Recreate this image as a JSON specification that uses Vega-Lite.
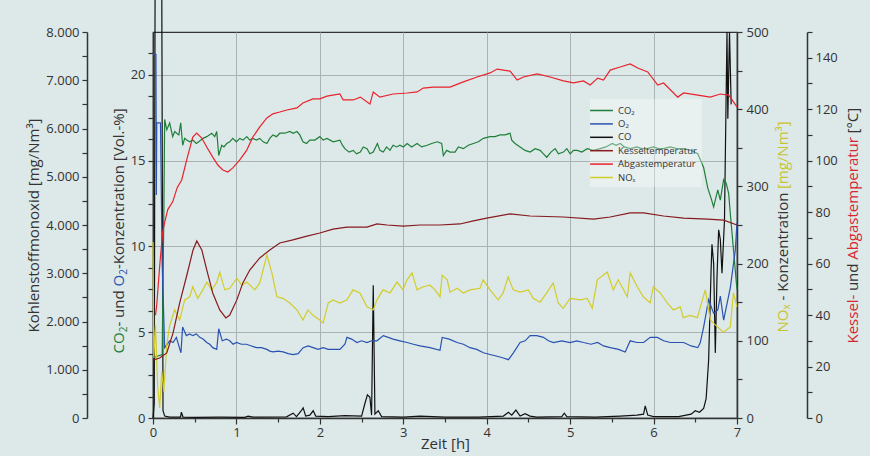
{
"$schema": "https://vega.github.io/schema/vega-lite/v6.json",
"width": 584, "height": 386,
"autosize": {"type": "none"},
"padding": {"left": 153, "top": 32, "right": 133, "bottom": 38},
"background": "#dde8e9",
"config": {
  "view": {"stroke": "#333333", "strokeWidth": 1.2},
  "font": "Open Sans",
  "axis": {"labelFont": "Open Sans", "titleFont": "Open Sans", "labelColor": "#333333", "titleColor": "#333333", "domainColor": "#333333", "tickColor": "#333333", "labelFontSize": 13, "titleFontSize": 15, "titleFontWeight": "normal", "gridColor": "#aab2b3", "gridWidth": 1, "domainWidth": 1.5, "tickWidth": 1.2, "labelOverlap": false, "labelFlush": false}
},
"datasets": {"d": [
{"s":"CO₂","t":0,"v":3.5},{"s":"CO₂","t":0.05,"v":3.6},{"s":"CO₂","t":0.11,"v":3.7},{"s":"CO₂","t":0.13,"v":12},{"s":"CO₂","t":0.14,"v":17.4},{"s":"CO₂","t":0.165,"v":16.8},{"s":"CO₂","t":0.2,"v":17.2},{"s":"CO₂","t":0.236,"v":16.4},{"s":"CO₂","t":0.26,"v":16.7},{"s":"CO₂","t":0.284,"v":16.6},{"s":"CO₂","t":0.31,"v":16.5},{"s":"CO₂","t":0.332,"v":17.2},{"s":"CO₂","t":0.356,"v":15.9},{"s":"CO₂","t":0.38,"v":16.3},{"s":"CO₂","t":0.404,"v":16.2},{"s":"CO₂","t":0.44,"v":16.1},{"s":"CO₂","t":0.476,"v":16.2},{"s":"CO₂","t":0.52,"v":16.0},{"s":"CO₂","t":0.56,"v":16.15},{"s":"CO₂","t":0.6,"v":16.3},{"s":"CO₂","t":0.644,"v":16.4},{"s":"CO₂","t":0.704,"v":16.6},{"s":"CO₂","t":0.74,"v":16.4},{"s":"CO₂","t":0.764,"v":16.7},{"s":"CO₂","t":0.788,"v":15.3},{"s":"CO₂","t":0.824,"v":15.9},{"s":"CO₂","t":0.85,"v":15.8},{"s":"CO₂","t":0.884,"v":16.0},{"s":"CO₂","t":0.92,"v":16.1},{"s":"CO₂","t":0.956,"v":16.3},{"s":"CO₂","t":1.0,"v":16.1},{"s":"CO₂","t":1.04,"v":16.3},{"s":"CO₂","t":1.08,"v":16.2},{"s":"CO₂","t":1.124,"v":16.4},{"s":"CO₂","t":1.16,"v":16.2},{"s":"CO₂","t":1.197,"v":16.3},{"s":"CO₂","t":1.24,"v":16.2},{"s":"CO₂","t":1.28,"v":16.3},{"s":"CO₂","t":1.32,"v":16.1},{"s":"CO₂","t":1.365,"v":16.0},{"s":"CO₂","t":1.4,"v":16.3},{"s":"CO₂","t":1.437,"v":16.5},{"s":"CO₂","t":1.48,"v":16.4},{"s":"CO₂","t":1.52,"v":16.6},{"s":"CO₂","t":1.58,"v":16.6},{"s":"CO₂","t":1.64,"v":16.7},{"s":"CO₂","t":1.68,"v":16.6},{"s":"CO₂","t":1.725,"v":16.7},{"s":"CO₂","t":1.76,"v":16.5},{"s":"CO₂","t":1.797,"v":16.1},{"s":"CO₂","t":1.84,"v":16.0},{"s":"CO₂","t":1.88,"v":16.2},{"s":"CO₂","t":1.94,"v":16.2},{"s":"CO₂","t":2.0,"v":16.4},{"s":"CO₂","t":2.04,"v":16.2},{"s":"CO₂","t":2.085,"v":16.3},{"s":"CO₂","t":2.16,"v":16.1},{"s":"CO₂","t":2.24,"v":16.2},{"s":"CO₂","t":2.27,"v":15.9},{"s":"CO₂","t":2.3,"v":15.7},{"s":"CO₂","t":2.35,"v":15.5},{"s":"CO₂","t":2.4,"v":15.6},{"s":"CO₂","t":2.44,"v":15.4},{"s":"CO₂","t":2.485,"v":15.5},{"s":"CO₂","t":2.52,"v":15.8},{"s":"CO₂","t":2.565,"v":15.7},{"s":"CO₂","t":2.6,"v":15.4},{"s":"CO₂","t":2.64,"v":15.5},{"s":"CO₂","t":2.69,"v":16.0},{"s":"CO₂","t":2.72,"v":15.6},{"s":"CO₂","t":2.76,"v":15.5},{"s":"CO₂","t":2.8,"v":15.8},{"s":"CO₂","t":2.84,"v":15.6},{"s":"CO₂","t":2.878,"v":15.9},{"s":"CO₂","t":2.92,"v":15.8},{"s":"CO₂","t":2.96,"v":15.9},{"s":"CO₂","t":3.0,"v":15.8},{"s":"CO₂","t":3.046,"v":16.0},{"s":"CO₂","t":3.1,"v":15.8},{"s":"CO₂","t":3.166,"v":16.0},{"s":"CO₂","t":3.22,"v":15.8},{"s":"CO₂","t":3.286,"v":15.9},{"s":"CO₂","t":3.34,"v":16.0},{"s":"CO₂","t":3.406,"v":16.1},{"s":"CO₂","t":3.46,"v":16.0},{"s":"CO₂","t":3.48,"v":15.3},{"s":"CO₂","t":3.52,"v":15.6},{"s":"CO₂","t":3.56,"v":15.5},{"s":"CO₂","t":3.62,"v":15.5},{"s":"CO₂","t":3.66,"v":15.8},{"s":"CO₂","t":3.72,"v":15.7},{"s":"CO₂","t":3.78,"v":15.9},{"s":"CO₂","t":3.84,"v":16.0},{"s":"CO₂","t":3.9,"v":16.1},{"s":"CO₂","t":3.96,"v":16.3},{"s":"CO₂","t":4.04,"v":16.4},{"s":"CO₂","t":4.1,"v":16.4},{"s":"CO₂","t":4.16,"v":16.5},{"s":"CO₂","t":4.22,"v":16.5},{"s":"CO₂","t":4.28,"v":16.6},{"s":"CO₂","t":4.3,"v":16.2},{"s":"CO₂","t":4.34,"v":16.0},{"s":"CO₂","t":4.4,"v":15.8},{"s":"CO₂","t":4.46,"v":15.6},{"s":"CO₂","t":4.52,"v":15.5},{"s":"CO₂","t":4.58,"v":15.7},{"s":"CO₂","t":4.64,"v":15.6},{"s":"CO₂","t":4.68,"v":15.4},{"s":"CO₂","t":4.72,"v":15.2},{"s":"CO₂","t":4.77,"v":15.5},{"s":"CO₂","t":4.82,"v":15.7},{"s":"CO₂","t":4.86,"v":15.4},{"s":"CO₂","t":4.92,"v":15.5},{"s":"CO₂","t":4.96,"v":15.7},{"s":"CO₂","t":5.0,"v":15.4},{"s":"CO₂","t":5.04,"v":15.6},{"s":"CO₂","t":5.085,"v":15.6},{"s":"CO₂","t":5.14,"v":15.5},{"s":"CO₂","t":5.205,"v":15.7},{"s":"CO₂","t":5.28,"v":15.6},{"s":"CO₂","t":5.36,"v":15.7},{"s":"CO₂","t":5.43,"v":15.8},{"s":"CO₂","t":5.505,"v":16.0},{"s":"CO₂","t":5.55,"v":15.9},{"s":"CO₂","t":5.6,"v":16.0},{"s":"CO₂","t":5.65,"v":15.8},{"s":"CO₂","t":5.72,"v":15.7},{"s":"CO₂","t":5.8,"v":15.8},{"s":"CO₂","t":5.86,"v":15.7},{"s":"CO₂","t":5.925,"v":15.7},{"s":"CO₂","t":6.0,"v":15.8},{"s":"CO₂","t":6.06,"v":15.7},{"s":"CO₂","t":6.12,"v":15.7},{"s":"CO₂","t":6.2,"v":15.8},{"s":"CO₂","t":6.28,"v":15.7},{"s":"CO₂","t":6.36,"v":15.7},{"s":"CO₂","t":6.45,"v":15.6},{"s":"CO₂","t":6.53,"v":15.4},{"s":"CO₂","t":6.6,"v":14.6},{"s":"CO₂","t":6.65,"v":13.4},{"s":"CO₂","t":6.69,"v":12.8},{"s":"CO₂","t":6.72,"v":12.3},{"s":"CO₂","t":6.75,"v":12.9},{"s":"CO₂","t":6.77,"v":13.3},{"s":"CO₂","t":6.8,"v":12.7},{"s":"CO₂","t":6.84,"v":13.9},{"s":"CO₂","t":6.87,"v":13.7},{"s":"CO₂","t":6.9,"v":13.1},{"s":"CO₂","t":6.92,"v":11.9},{"s":"CO₂","t":6.96,"v":9.7},{"s":"CO₂","t":6.99,"v":8.0},{"s":"CO₂","t":7.0,"v":7.5},
{"s":"O₂","t":0,"v":21.2},{"s":"O₂","t":0.035,"v":21.2},{"s":"O₂","t":0.04,"v":13.0},{"s":"O₂","t":0.045,"v":17.2},{"s":"O₂","t":0.09,"v":17.2},{"s":"O₂","t":0.11,"v":9.0},{"s":"O₂","t":0.14,"v":4.1},{"s":"O₂","t":0.2,"v":4.5},{"s":"O₂","t":0.24,"v":4.4},{"s":"O₂","t":0.28,"v":4.7},{"s":"O₂","t":0.335,"v":3.8},{"s":"O₂","t":0.355,"v":5.3},{"s":"O₂","t":0.4,"v":4.8},{"s":"O₂","t":0.44,"v":4.9},{"s":"O₂","t":0.476,"v":4.8},{"s":"O₂","t":0.52,"v":4.9},{"s":"O₂","t":0.56,"v":4.7},{"s":"O₂","t":0.6,"v":4.6},{"s":"O₂","t":0.644,"v":4.4},{"s":"O₂","t":0.68,"v":4.3},{"s":"O₂","t":0.716,"v":4.1},{"s":"O₂","t":0.764,"v":4.0},{"s":"O₂","t":0.788,"v":5.2},{"s":"O₂","t":0.83,"v":4.5},{"s":"O₂","t":0.88,"v":4.6},{"s":"O₂","t":0.92,"v":4.5},{"s":"O₂","t":0.96,"v":4.3},{"s":"O₂","t":1.0,"v":4.4},{"s":"O₂","t":1.06,"v":4.3},{"s":"O₂","t":1.12,"v":4.3},{"s":"O₂","t":1.18,"v":4.2},{"s":"O₂","t":1.24,"v":4.1},{"s":"O₂","t":1.3,"v":4.1},{"s":"O₂","t":1.365,"v":4.0},{"s":"O₂","t":1.4,"v":3.9},{"s":"O₂","t":1.44,"v":3.85},{"s":"O₂","t":1.5,"v":3.9},{"s":"O₂","t":1.56,"v":3.85},{"s":"O₂","t":1.62,"v":3.75},{"s":"O₂","t":1.68,"v":3.7},{"s":"O₂","t":1.74,"v":3.75},{"s":"O₂","t":1.8,"v":4.1},{"s":"O₂","t":1.86,"v":4.2},{"s":"O₂","t":1.92,"v":4.1},{"s":"O₂","t":1.98,"v":4.0},{"s":"O₂","t":2.04,"v":4.1},{"s":"O₂","t":2.1,"v":4.0},{"s":"O₂","t":2.157,"v":4.0},{"s":"O₂","t":2.24,"v":4.0},{"s":"O₂","t":2.3,"v":4.3},{"s":"O₂","t":2.325,"v":4.7},{"s":"O₂","t":2.38,"v":4.6},{"s":"O₂","t":2.445,"v":4.4},{"s":"O₂","t":2.5,"v":4.5},{"s":"O₂","t":2.565,"v":4.4},{"s":"O₂","t":2.62,"v":4.5},{"s":"O₂","t":2.685,"v":4.5},{"s":"O₂","t":2.76,"v":4.8},{"s":"O₂","t":2.82,"v":4.7},{"s":"O₂","t":2.878,"v":4.6},{"s":"O₂","t":2.96,"v":4.5},{"s":"O₂","t":3.046,"v":4.4},{"s":"O₂","t":3.12,"v":4.3},{"s":"O₂","t":3.2,"v":4.2},{"s":"O₂","t":3.32,"v":4.1},{"s":"O₂","t":3.44,"v":3.95},{"s":"O₂","t":3.466,"v":4.7},{"s":"O₂","t":3.55,"v":4.6},{"s":"O₂","t":3.645,"v":4.4},{"s":"O₂","t":3.72,"v":4.3},{"s":"O₂","t":3.8,"v":4.1},{"s":"O₂","t":3.88,"v":4.0},{"s":"O₂","t":3.96,"v":3.8},{"s":"O₂","t":4.04,"v":3.7},{"s":"O₂","t":4.125,"v":3.6},{"s":"O₂","t":4.2,"v":3.5},{"s":"O₂","t":4.26,"v":3.4},{"s":"O₂","t":4.32,"v":3.8},{"s":"O₂","t":4.4,"v":4.4},{"s":"O₂","t":4.46,"v":4.5},{"s":"O₂","t":4.52,"v":4.8},{"s":"O₂","t":4.6,"v":4.8},{"s":"O₂","t":4.68,"v":4.7},{"s":"O₂","t":4.74,"v":4.5},{"s":"O₂","t":4.8,"v":4.4},{"s":"O₂","t":4.9,"v":4.5},{"s":"O₂","t":5.0,"v":4.4},{"s":"O₂","t":5.08,"v":4.5},{"s":"O₂","t":5.16,"v":4.4},{"s":"O₂","t":5.25,"v":4.3},{"s":"O₂","t":5.33,"v":4.4},{"s":"O₂","t":5.4,"v":4.2},{"s":"O₂","t":5.48,"v":4.1},{"s":"O₂","t":5.58,"v":4.0},{"s":"O₂","t":5.66,"v":3.85},{"s":"O₂","t":5.72,"v":4.5},{"s":"O₂","t":5.8,"v":4.4},{"s":"O₂","t":5.88,"v":4.4},{"s":"O₂","t":5.96,"v":4.7},{"s":"O₂","t":6.045,"v":4.7},{"s":"O₂","t":6.12,"v":4.5},{"s":"O₂","t":6.2,"v":4.4},{"s":"O₂","t":6.28,"v":4.4},{"s":"O₂","t":6.36,"v":4.4},{"s":"O₂","t":6.45,"v":4.2},{"s":"O₂","t":6.53,"v":4.1},{"s":"O₂","t":6.56,"v":4.4},{"s":"O₂","t":6.6,"v":5.3},{"s":"O₂","t":6.66,"v":6.9},{"s":"O₂","t":6.72,"v":6.1},{"s":"O₂","t":6.77,"v":6.3},{"s":"O₂","t":6.8,"v":7.1},{"s":"O₂","t":6.84,"v":5.7},{"s":"O₂","t":6.92,"v":7.6},{"s":"O₂","t":6.98,"v":9.8},{"s":"O₂","t":7.0,"v":11.4},
{"s":"CO","t":0,"v":0},{"s":"CO","t":0.015,"v":300},{"s":"CO","t":0.025,"v":9000},{"s":"CO","t":0.105,"v":9000},{"s":"CO","t":0.12,"v":150},{"s":"CO","t":0.14,"v":40},{"s":"CO","t":0.2,"v":20},{"s":"CO","t":0.33,"v":20},{"s":"CO","t":0.34,"v":120},{"s":"CO","t":0.36,"v":20},{"s":"CO","t":0.5,"v":15},{"s":"CO","t":0.8,"v":20},{"s":"CO","t":1.1,"v":15},{"s":"CO","t":1.14,"v":40},{"s":"CO","t":1.2,"v":20},{"s":"CO","t":1.6,"v":25},{"s":"CO","t":1.68,"v":100},{"s":"CO","t":1.72,"v":30},{"s":"CO","t":1.78,"v":160},{"s":"CO","t":1.8,"v":210},{"s":"CO","t":1.83,"v":40},{"s":"CO","t":1.88,"v":60},{"s":"CO","t":1.92,"v":150},{"s":"CO","t":1.95,"v":40},{"s":"CO","t":2.1,"v":30},{"s":"CO","t":2.3,"v":50},{"s":"CO","t":2.5,"v":40},{"s":"CO","t":2.54,"v":300},{"s":"CO","t":2.57,"v":480},{"s":"CO","t":2.6,"v":430},{"s":"CO","t":2.62,"v":60},{"s":"CO","t":2.64,"v":2750},{"s":"CO","t":2.66,"v":80},{"s":"CO","t":2.7,"v":150},{"s":"CO","t":2.74,"v":30},{"s":"CO","t":3.0,"v":20},{"s":"CO","t":3.2,"v":40},{"s":"CO","t":3.5,"v":20},{"s":"CO","t":3.9,"v":20},{"s":"CO","t":4.2,"v":40},{"s":"CO","t":4.26,"v":120},{"s":"CO","t":4.3,"v":60},{"s":"CO","t":4.35,"v":165},{"s":"CO","t":4.4,"v":40},{"s":"CO","t":4.46,"v":90},{"s":"CO","t":4.52,"v":40},{"s":"CO","t":4.6,"v":20},{"s":"CO","t":4.9,"v":30},{"s":"CO","t":4.93,"v":100},{"s":"CO","t":4.96,"v":30},{"s":"CO","t":5.3,"v":20},{"s":"CO","t":5.6,"v":40},{"s":"CO","t":5.8,"v":60},{"s":"CO","t":5.88,"v":80},{"s":"CO","t":5.9,"v":250},{"s":"CO","t":5.93,"v":60},{"s":"CO","t":6.0,"v":30},{"s":"CO","t":6.3,"v":30},{"s":"CO","t":6.45,"v":80},{"s":"CO","t":6.5,"v":150},{"s":"CO","t":6.55,"v":120},{"s":"CO","t":6.6,"v":200},{"s":"CO","t":6.63,"v":400},{"s":"CO","t":6.66,"v":1200},{"s":"CO","t":6.69,"v":3100},{"s":"CO","t":6.7,"v":3600},{"s":"CO","t":6.72,"v":3200},{"s":"CO","t":6.74,"v":1350},{"s":"CO","t":6.76,"v":2900},{"s":"CO","t":6.78,"v":3900},{"s":"CO","t":6.8,"v":3700},{"s":"CO","t":6.82,"v":3000},{"s":"CO","t":6.85,"v":4100},{"s":"CO","t":6.88,"v":8000},{"s":"CO","t":6.89,"v":6200},{"s":"CO","t":6.91,"v":8000},{"s":"CO","t":6.93,"v":6500},
{"s":"NOₓ","t":0,"v":228},{"s":"NOₓ","t":0.01,"v":78},{"s":"NOₓ","t":0.03,"v":120},{"s":"NOₓ","t":0.055,"v":43},{"s":"NOₓ","t":0.08,"v":13},{"s":"NOₓ","t":0.105,"v":60},{"s":"NOₓ","t":0.13,"v":34},{"s":"NOₓ","t":0.165,"v":95},{"s":"NOₓ","t":0.2,"v":120},{"s":"NOₓ","t":0.26,"v":140},{"s":"NOₓ","t":0.32,"v":127},{"s":"NOₓ","t":0.38,"v":153},{"s":"NOₓ","t":0.44,"v":157},{"s":"NOₓ","t":0.477,"v":170},{"s":"NOₓ","t":0.537,"v":155},{"s":"NOₓ","t":0.597,"v":166},{"s":"NOₓ","t":0.645,"v":176},{"s":"NOₓ","t":0.705,"v":166},{"s":"NOₓ","t":0.765,"v":176},{"s":"NOₓ","t":0.8,"v":189},{"s":"NOₓ","t":0.86,"v":166},{"s":"NOₓ","t":0.92,"v":168},{"s":"NOₓ","t":1.005,"v":181},{"s":"NOₓ","t":1.065,"v":172},{"s":"NOₓ","t":1.125,"v":176},{"s":"NOₓ","t":1.22,"v":166},{"s":"NOₓ","t":1.28,"v":175},{"s":"NOₓ","t":1.365,"v":211},{"s":"NOₓ","t":1.425,"v":188},{"s":"NOₓ","t":1.485,"v":157},{"s":"NOₓ","t":1.557,"v":155},{"s":"NOₓ","t":1.64,"v":149},{"s":"NOₓ","t":1.725,"v":140},{"s":"NOₓ","t":1.797,"v":127},{"s":"NOₓ","t":1.857,"v":140},{"s":"NOₓ","t":1.917,"v":133},{"s":"NOₓ","t":2.0,"v":127},{"s":"NOₓ","t":2.04,"v":123},{"s":"NOₓ","t":2.1,"v":149},{"s":"NOₓ","t":2.157,"v":153},{"s":"NOₓ","t":2.24,"v":149},{"s":"NOₓ","t":2.325,"v":153},{"s":"NOₓ","t":2.397,"v":166},{"s":"NOₓ","t":2.48,"v":162},{"s":"NOₓ","t":2.565,"v":144},{"s":"NOₓ","t":2.64,"v":140},{"s":"NOₓ","t":2.685,"v":153},{"s":"NOₓ","t":2.757,"v":166},{"s":"NOₓ","t":2.84,"v":162},{"s":"NOₓ","t":2.925,"v":176},{"s":"NOₓ","t":2.997,"v":166},{"s":"NOₓ","t":3.045,"v":179},{"s":"NOₓ","t":3.105,"v":188},{"s":"NOₓ","t":3.165,"v":166},{"s":"NOₓ","t":3.237,"v":170},{"s":"NOₓ","t":3.32,"v":172},{"s":"NOₓ","t":3.38,"v":166},{"s":"NOₓ","t":3.44,"v":157},{"s":"NOₓ","t":3.466,"v":185},{"s":"NOₓ","t":3.526,"v":179},{"s":"NOₓ","t":3.56,"v":163},{"s":"NOₓ","t":3.645,"v":168},{"s":"NOₓ","t":3.72,"v":162},{"s":"NOₓ","t":3.8,"v":166},{"s":"NOₓ","t":3.92,"v":168},{"s":"NOₓ","t":3.957,"v":179},{"s":"NOₓ","t":4.04,"v":166},{"s":"NOₓ","t":4.137,"v":153},{"s":"NOₓ","t":4.197,"v":162},{"s":"NOₓ","t":4.257,"v":183},{"s":"NOₓ","t":4.317,"v":166},{"s":"NOₓ","t":4.4,"v":163},{"s":"NOₓ","t":4.5,"v":166},{"s":"NOₓ","t":4.557,"v":155},{"s":"NOₓ","t":4.64,"v":150},{"s":"NOₓ","t":4.725,"v":163},{"s":"NOₓ","t":4.797,"v":175},{"s":"NOₓ","t":4.857,"v":149},{"s":"NOₓ","t":4.917,"v":142},{"s":"NOₓ","t":5.0,"v":155},{"s":"NOₓ","t":5.12,"v":153},{"s":"NOₓ","t":5.205,"v":155},{"s":"NOₓ","t":5.265,"v":142},{"s":"NOₓ","t":5.325,"v":179},{"s":"NOₓ","t":5.445,"v":189},{"s":"NOₓ","t":5.517,"v":166},{"s":"NOₓ","t":5.577,"v":179},{"s":"NOₓ","t":5.685,"v":157},{"s":"NOₓ","t":5.72,"v":188},{"s":"NOₓ","t":5.805,"v":170},{"s":"NOₓ","t":5.877,"v":157},{"s":"NOₓ","t":5.96,"v":149},{"s":"NOₓ","t":5.997,"v":170},{"s":"NOₓ","t":6.08,"v":162},{"s":"NOₓ","t":6.165,"v":149},{"s":"NOₓ","t":6.237,"v":140},{"s":"NOₓ","t":6.32,"v":144},{"s":"NOₓ","t":6.357,"v":130},{"s":"NOₓ","t":6.44,"v":133},{"s":"NOₓ","t":6.525,"v":130},{"s":"NOₓ","t":6.585,"v":153},{"s":"NOₓ","t":6.62,"v":166},{"s":"NOₓ","t":6.68,"v":127},{"s":"NOₓ","t":6.765,"v":118},{"s":"NOₓ","t":6.837,"v":111},{"s":"NOₓ","t":6.92,"v":118},{"s":"NOₓ","t":6.957,"v":162},{"s":"NOₓ","t":7.0,"v":144},
{"s":"Abgastemperatur","t":0.03,"v":40},{"s":"Abgastemperatur","t":0.045,"v":44},{"s":"Abgastemperatur","t":0.08,"v":59},{"s":"Abgastemperatur","t":0.115,"v":72},{"s":"Abgastemperatur","t":0.14,"v":76},{"s":"Abgastemperatur","t":0.177,"v":81},{"s":"Abgastemperatur","t":0.236,"v":84},{"s":"Abgastemperatur","t":0.29,"v":89.5},{"s":"Abgastemperatur","t":0.344,"v":92.5},{"s":"Abgastemperatur","t":0.404,"v":100.3},{"s":"Abgastemperatur","t":0.477,"v":109.2},{"s":"Abgastemperatur","t":0.524,"v":110.7},{"s":"Abgastemperatur","t":0.584,"v":108.8},{"s":"Abgastemperatur","t":0.644,"v":105.3},{"s":"Abgastemperatur","t":0.716,"v":101.4},{"s":"Abgastemperatur","t":0.777,"v":98.3},{"s":"Abgastemperatur","t":0.837,"v":96.4},{"s":"Abgastemperatur","t":0.897,"v":95.6},{"s":"Abgastemperatur","t":0.957,"v":97.2},{"s":"Abgastemperatur","t":1.04,"v":100.3},{"s":"Abgastemperatur","t":1.124,"v":104.1},{"s":"Abgastemperatur","t":1.197,"v":109.2},{"s":"Abgastemperatur","t":1.28,"v":113.1},{"s":"Abgastemperatur","t":1.365,"v":116.6},{"s":"Abgastemperatur","t":1.437,"v":118.2},{"s":"Abgastemperatur","t":1.52,"v":118.9},{"s":"Abgastemperatur","t":1.605,"v":119.7},{"s":"Abgastemperatur","t":1.725,"v":120.5},{"s":"Abgastemperatur","t":1.797,"v":122.4},{"s":"Abgastemperatur","t":1.917,"v":124.0},{"s":"Abgastemperatur","t":2.0,"v":124.0},{"s":"Abgastemperatur","t":2.085,"v":125.1},{"s":"Abgastemperatur","t":2.24,"v":125.9},{"s":"Abgastemperatur","t":2.28,"v":123.6},{"s":"Abgastemperatur","t":2.4,"v":123.6},{"s":"Abgastemperatur","t":2.485,"v":124.7},{"s":"Abgastemperatur","t":2.6,"v":122.0},{"s":"Abgastemperatur","t":2.64,"v":126.7},{"s":"Abgastemperatur","t":2.72,"v":124.7},{"s":"Abgastemperatur","t":2.878,"v":125.9},{"s":"Abgastemperatur","t":3.046,"v":126.3},{"s":"Abgastemperatur","t":3.166,"v":126.7},{"s":"Abgastemperatur","t":3.24,"v":128.2},{"s":"Abgastemperatur","t":3.36,"v":128.6},{"s":"Abgastemperatur","t":3.56,"v":128.6},{"s":"Abgastemperatur","t":3.72,"v":130.6},{"s":"Abgastemperatur","t":3.885,"v":132.5},{"s":"Abgastemperatur","t":4.04,"v":134.1},{"s":"Abgastemperatur","t":4.125,"v":135.6},{"s":"Abgastemperatur","t":4.28,"v":134.8},{"s":"Abgastemperatur","t":4.365,"v":131.3},{"s":"Abgastemperatur","t":4.44,"v":132.5},{"s":"Abgastemperatur","t":4.605,"v":133.7},{"s":"Abgastemperatur","t":4.76,"v":132.5},{"s":"Abgastemperatur","t":4.92,"v":131.0},{"s":"Abgastemperatur","t":5.04,"v":130.2},{"s":"Abgastemperatur","t":5.16,"v":131.0},{"s":"Abgastemperatur","t":5.24,"v":129.4},{"s":"Abgastemperatur","t":5.33,"v":132.1},{"s":"Abgastemperatur","t":5.4,"v":131.3},{"s":"Abgastemperatur","t":5.48,"v":135.2},{"s":"Abgastemperatur","t":5.6,"v":136.4},{"s":"Abgastemperatur","t":5.72,"v":137.6},{"s":"Abgastemperatur","t":5.81,"v":136.0},{"s":"Abgastemperatur","t":5.93,"v":134.5},{"s":"Abgastemperatur","t":6.05,"v":129.4},{"s":"Abgastemperatur","t":6.12,"v":130.2},{"s":"Abgastemperatur","t":6.29,"v":124.7},{"s":"Abgastemperatur","t":6.36,"v":126.3},{"s":"Abgastemperatur","t":6.53,"v":125.5},{"s":"Abgastemperatur","t":6.68,"v":124.7},{"s":"Abgastemperatur","t":6.8,"v":125.9},{"s":"Abgastemperatur","t":6.9,"v":125.5},{"s":"Abgastemperatur","t":7.0,"v":120.9},
{"s":"Kesseltemperatur","t":0,"v":22.5},{"s":"Kesseltemperatur","t":0.08,"v":23.3},{"s":"Kesseltemperatur","t":0.165,"v":25.3},{"s":"Kesseltemperatur","t":0.24,"v":33.0},{"s":"Kesseltemperatur","t":0.32,"v":44.7},{"s":"Kesseltemperatur","t":0.4,"v":54.8},{"s":"Kesseltemperatur","t":0.48,"v":65.3},{"s":"Kesseltemperatur","t":0.525,"v":68.8},{"s":"Kesseltemperatur","t":0.585,"v":65.3},{"s":"Kesseltemperatur","t":0.645,"v":57.5},{"s":"Kesseltemperatur","t":0.716,"v":48.6},{"s":"Kesseltemperatur","t":0.8,"v":42.0},{"s":"Kesseltemperatur","t":0.873,"v":38.9},{"s":"Kesseltemperatur","t":0.92,"v":40.0},{"s":"Kesseltemperatur","t":1.005,"v":45.9},{"s":"Kesseltemperatur","t":1.077,"v":52.5},{"s":"Kesseltemperatur","t":1.16,"v":57.5},{"s":"Kesseltemperatur","t":1.28,"v":62.2},{"s":"Kesseltemperatur","t":1.4,"v":65.3},{"s":"Kesseltemperatur","t":1.52,"v":68.0},{"s":"Kesseltemperatur","t":1.677,"v":69.2},{"s":"Kesseltemperatur","t":1.845,"v":70.7},{"s":"Kesseltemperatur","t":2.0,"v":71.9},{"s":"Kesseltemperatur","t":2.157,"v":73.4},{"s":"Kesseltemperatur","t":2.325,"v":74.2},{"s":"Kesseltemperatur","t":2.565,"v":74.2},{"s":"Kesseltemperatur","t":2.685,"v":75.4},{"s":"Kesseltemperatur","t":2.805,"v":75.0},{"s":"Kesseltemperatur","t":3.0,"v":74.6},{"s":"Kesseltemperatur","t":3.2,"v":75.0},{"s":"Kesseltemperatur","t":3.44,"v":75.0},{"s":"Kesseltemperatur","t":3.68,"v":75.4},{"s":"Kesseltemperatur","t":3.84,"v":76.6},{"s":"Kesseltemperatur","t":4.0,"v":77.7},{"s":"Kesseltemperatur","t":4.28,"v":79.3},{"s":"Kesseltemperatur","t":4.52,"v":78.5},{"s":"Kesseltemperatur","t":4.92,"v":78.1},{"s":"Kesseltemperatur","t":5.28,"v":77.3},{"s":"Kesseltemperatur","t":5.48,"v":78.1},{"s":"Kesseltemperatur","t":5.72,"v":79.7},{"s":"Kesseltemperatur","t":5.88,"v":79.7},{"s":"Kesseltemperatur","t":6.12,"v":78.5},{"s":"Kesseltemperatur","t":6.36,"v":77.7},{"s":"Kesseltemperatur","t":6.65,"v":77.3},{"s":"Kesseltemperatur","t":6.84,"v":76.9},{"s":"Kesseltemperatur","t":7.0,"v":75.0}
]},
"data": {"name": "d"},
"encoding": {
  "x": {"field": "t", "type": "quantitative", "scale": {"domain": [0, 7], "nice": false},
    "axis": {"values": [0,0.5,1,1.5,2,2.5,3,3.5,4,4.5,5,5.5,6,6.5,7],
      "labelExpr": "datum.value % 1 === 0 ? format(datum.value, 'd') : ''",
      "grid": true,
      "gridOpacity": {"condition": {"test": "datum.value % 1 === 0 && datum.value > 0 && datum.value < 7", "value": 1}, "value": 0},
      "tickSize": {"condition": {"test": "datum.value % 1 === 0", "value": 6}, "value": 4},
      "labelPadding": 2,
      "title": "Zeit [h]", "titleFontSize": 15, "titleX": 292, "titleY": 25, "titleAlign": "center", "titleBaseline": "middle"}}
},
"layer": [
  {"transform": [{"filter": {"field": "s", "equal": "CO"}}],
   "mark": {"type": "line", "strokeWidth": 1.2, "clip": false},
   "encoding": {
     "y": {"field": "v", "type": "quantitative", "scale": {"domain": [0, 8000], "nice": false},
       "axis": {"orient": "left", "offset": 66, "values": [0,500,1000,1500,2000,2500,3000,3500,4000,4500,5000,5500,6000,6500,7000,7500,8000],
         "labelExpr": "datum.value % 1000 === 0 ? replace(format(datum.value, ','), ',', '.') : ''",
         "tickSize": 5, "labelPadding": 3, "grid": false,
         "title": "Kohlenstoffmonoxid [mg/Nm³]", "titleAngle": 270, "titleAlign": "center", "titleBaseline": "middle", "titleX": -54, "titleY": 193}},
     "color": {"field": "s", "type": "nominal",
       "scale": {"domain": ["CO₂", "O₂", "CO", "Kesseltemperatur", "Abgastemperatur", "NOₓ"], "range": ["#1f7f3a", "#2a52b0", "#111111", "#861a1e", "#e8232c", "#d2cd2b"]},
       "legend": {"orient": "none", "legendX": 437, "legendY": 67, "title": null, "symbolType": "M-2,0L2,0", "symbolSize": 130, "symbolStrokeWidth": 1.5, "labelFont": "Open Sans", "labelFontSize": 9.5, "labelColor": "#333333", "labelOffset": 10, "rowPadding": 2.4, "padding": 5, "fillColor": "rgba(255,255,255,0.35)"}}
   }},
  {"transform": [{"filter": {"field": "s", "oneOf": ["CO₂", "O₂"]}}],
   "mark": {"type": "line", "strokeWidth": 1.2},
   "encoding": {
     "y": {"field": "v", "type": "quantitative", "scale": {"domain": [0, 22.5], "nice": false},
       "axis": {"orient": "left", "offset": 0, "values": [0,1.25,2.5,3.75,5,6.25,7.5,8.75,10,11.25,12.5,13.75,15,16.25,17.5,18.75,20,21.25],
         "labelExpr": "datum.value % 5 === 0 ? format(datum.value, 'd') : ''",
         "tickSize": 5, "labelPadding": 3, "grid": true,
         "gridOpacity": {"condition": {"test": "datum.value % 5 === 0 && datum.value > 0", "value": 1}, "value": 0},
         "title": "-Konzentration [Vol.-%]", "titleAngle": 270, "titleAlign": "left", "titleBaseline": "alphabetic", "titleX": -29.6, "titleY": 236.6}},
     "color": {"field": "s", "type": "nominal"}
   }},
  {"transform": [{"filter": {"field": "s", "equal": "NOₓ"}}],
   "mark": {"type": "line", "strokeWidth": 1.2},
   "encoding": {
     "y": {"field": "v", "type": "quantitative", "scale": {"domain": [0, 500], "nice": false},
       "axis": {"orient": "right", "offset": 0, "values": [0,50,100,150,200,250,300,350,400,450,500],
         "labelExpr": "datum.value % 100 === 0 ? format(datum.value, 'd') : ''",
         "tickSize": 5, "labelPadding": 4, "grid": false,
         "title": "NO", "titleColor": "#c9c431", "titleAngle": 270, "titleAlign": "left", "titleBaseline": "alphabetic", "titleX": 50.4, "titleY": 300}},
     "color": {"field": "s", "type": "nominal"}
   }},
  {"transform": [{"filter": {"field": "s", "oneOf": ["Kesseltemperatur", "Abgastemperatur"]}}],
   "mark": {"type": "line", "strokeWidth": 1.2},
   "encoding": {
     "y": {"field": "v", "type": "quantitative", "scale": {"domain": [0, 150], "nice": false},
       "axis": {"orient": "right", "offset": 70, "values": [0,10,20,30,40,50,60,70,80,90,100,110,120,130,140,150],
         "labelExpr": "datum.value % 20 === 0 ? format(datum.value, 'd') : ''",
         "tickSize": 5, "labelPadding": 3, "grid": false,
         "title": "Kessel-", "titleColor": "#d8262e", "titleAngle": 270, "titleAlign": "left", "titleBaseline": "middle", "titleX": 45, "titleY": 311}},
     "color": {"field": "s", "type": "nominal"}
   }},
  {"transform": [{"filter": "false"}], "mark": {"type": "point", "opacity": 0},
   "encoding": {"y": {"field": "v", "type": "quantitative", "scale": {"domain": [0, 1]},
     "axis": {"orient": "left", "offset": 0, "labels": false, "ticks": false, "domain": false, "grid": false,
       "title": "CO", "titleColor": "#1f7f3a", "titleAngle": 270, "titleAlign": "left", "titleBaseline": "alphabetic", "titleX": -29.6, "titleY": 321}}}},
  {"transform": [{"filter": "false"}], "mark": {"type": "point", "opacity": 0},
   "encoding": {"y": {"field": "v", "type": "quantitative", "scale": {"domain": [0, 1]},
     "axis": {"orient": "left", "offset": 0, "labels": false, "ticks": false, "domain": false, "grid": false,
       "title": "2", "titleFontSize": 10, "titleColor": "#1f7f3a", "titleAngle": 270, "titleAlign": "left", "titleBaseline": "alphabetic", "titleX": -27, "titleY": 299.8}}}},
  {"transform": [{"filter": "false"}], "mark": {"type": "point", "opacity": 0},
   "encoding": {"y": {"field": "v", "type": "quantitative", "scale": {"domain": [0, 1]},
     "axis": {"orient": "left", "offset": 0, "labels": false, "ticks": false, "domain": false, "grid": false,
       "title": "- und", "titleAngle": 270, "titleAlign": "left", "titleBaseline": "alphabetic", "titleX": -29.6, "titleY": 294.1}}}},
  {"transform": [{"filter": "false"}], "mark": {"type": "point", "opacity": 0},
   "encoding": {"y": {"field": "v", "type": "quantitative", "scale": {"domain": [0, 1]},
     "axis": {"orient": "left", "offset": 0, "labels": false, "ticks": false, "domain": false, "grid": false,
       "title": "O", "titleColor": "#2a52b0", "titleAngle": 270, "titleAlign": "left", "titleBaseline": "alphabetic", "titleX": -29.6, "titleY": 254}}}},
  {"transform": [{"filter": "false"}], "mark": {"type": "point", "opacity": 0},
   "encoding": {"y": {"field": "v", "type": "quantitative", "scale": {"domain": [0, 1]},
     "axis": {"orient": "left", "offset": 0, "labels": false, "ticks": false, "domain": false, "grid": false,
       "title": "2", "titleFontSize": 10, "titleColor": "#2a52b0", "titleAngle": 270, "titleAlign": "left", "titleBaseline": "alphabetic", "titleX": -27, "titleY": 242.3}}}},
  {"transform": [{"filter": "false"}], "mark": {"type": "point", "opacity": 0},
   "encoding": {"y": {"field": "v", "type": "quantitative", "scale": {"domain": [0, 1]},
     "axis": {"orient": "right", "offset": 0, "labels": false, "ticks": false, "domain": false, "grid": false,
       "title": "x", "titleFontSize": 10, "titleColor": "#c9c431", "titleAngle": 270, "titleAlign": "left", "titleBaseline": "alphabetic", "titleX": 52.9, "titleY": 277.1}}}},
  {"transform": [{"filter": "false"}], "mark": {"type": "point", "opacity": 0},
   "encoding": {"y": {"field": "v", "type": "quantitative", "scale": {"domain": [0, 1]},
     "axis": {"orient": "right", "offset": 0, "labels": false, "ticks": false, "domain": false, "grid": false,
       "title": "- Konzentration", "titleAngle": 270, "titleAlign": "left", "titleBaseline": "alphabetic", "titleX": 50.4, "titleY": 267.9}}}},
  {"transform": [{"filter": "false"}], "mark": {"type": "point", "opacity": 0},
   "encoding": {"y": {"field": "v", "type": "quantitative", "scale": {"domain": [0, 1]},
     "axis": {"orient": "right", "offset": 0, "labels": false, "ticks": false, "domain": false, "grid": false,
       "title": "[mg/Nm³]", "titleColor": "#c9c431", "titleAngle": 270, "titleAlign": "left", "titleBaseline": "alphabetic", "titleX": 50.4, "titleY": 156.6}}}},
  {"transform": [{"filter": "false"}], "mark": {"type": "point", "opacity": 0},
   "encoding": {"y": {"field": "v", "type": "quantitative", "scale": {"domain": [0, 1]},
     "axis": {"orient": "right", "offset": 70, "labels": false, "ticks": false, "domain": false, "grid": false,
       "title": "und", "titleAngle": 270, "titleAlign": "left", "titleBaseline": "middle", "titleX": 45, "titleY": 258.6}}}},
  {"transform": [{"filter": "false"}], "mark": {"type": "point", "opacity": 0},
   "encoding": {"y": {"field": "v", "type": "quantitative", "scale": {"domain": [0, 1]},
     "axis": {"orient": "right", "offset": 70, "labels": false, "ticks": false, "domain": false, "grid": false,
       "title": "Abgastemperatur", "titleColor": "#d8262e", "titleAngle": 270, "titleAlign": "left", "titleBaseline": "middle", "titleX": 45, "titleY": 227.3}}}},
  {"transform": [{"filter": "false"}], "mark": {"type": "point", "opacity": 0},
   "encoding": {"y": {"field": "v", "type": "quantitative", "scale": {"domain": [0, 1]},
     "axis": {"orient": "right", "offset": 70, "labels": false, "ticks": false, "domain": false, "grid": false,
       "title": "[°C]", "titleAngle": 270, "titleAlign": "left", "titleBaseline": "middle", "titleX": 45, "titleY": 101}}}}
],
"resolve": {"scale": {"y": "independent"}}
}
